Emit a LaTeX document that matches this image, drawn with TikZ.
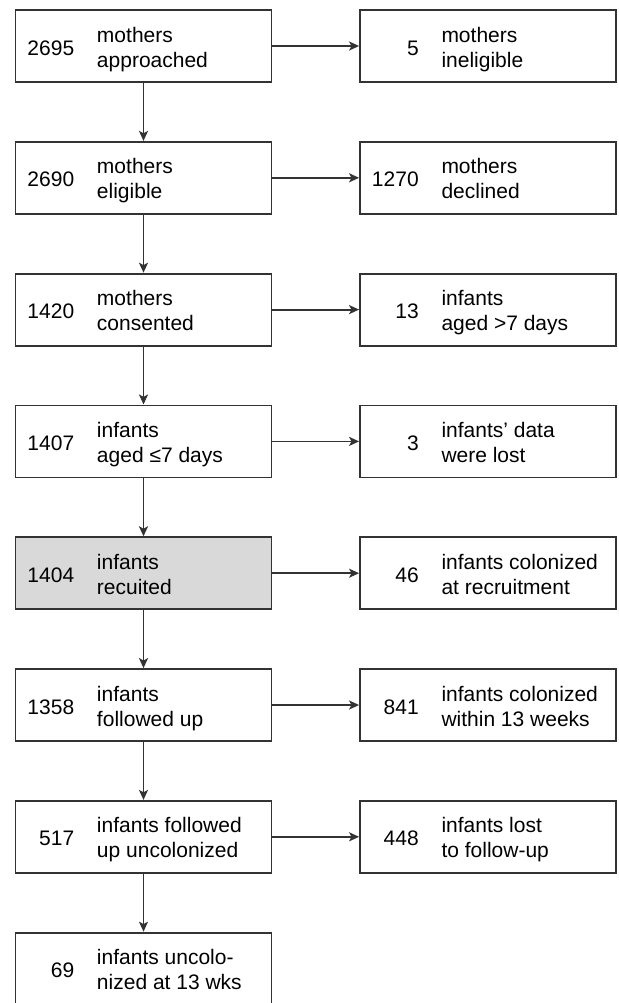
\documentclass[tikz,border=0pt]{standalone}
\usepackage{fontspec}
\setmainfont{Liberation Sans}
\usetikzlibrary{positioning,arrows.meta}
\definecolor{boxline}{gray}{0.2}
\definecolor{boxgrey}{gray}{0.85}
\newcommand{\flowfont}{\fontsize{10.5}{12.5}\selectfont}
\tikzstyle{stage} = [draw=boxline, line width=0.9pt, minimum width=128pt, minimum height=36pt, inner sep=0pt]
\tikzstyle{num} = [anchor=base east, inner sep=0pt, font=\flowfont]
\tikzstyle{desc} = [anchor=base west, inner sep=0pt, align=left, font=\flowfont]
\tikzstyle{flow} = [draw=boxline, line width=0.9pt, -{Stealth[length=5pt,width=4.5pt,inset=1.2pt]}]

\begin{document}
\begin{tikzpicture}
			\useasboundingbox (0,0) rectangle (309pt,-501.5pt);
			% main column
			\node[stage] (app) at (71.75pt,-23pt) {};
			\node[num] (app-n) at ([xshift=30pt,yshift=-4.5pt]app.west) {2695};
			\node[desc] (app-t) at ([xshift=41pt,yshift=-10.5pt]app.west) {mothers\\approached};
			\node[stage] (elig) at (71.75pt,-88.9pt) {};
			\node[num] (elig-n) at ([xshift=30pt,yshift=-4.5pt]elig.west) {2690};
			\node[desc] (elig-t) at ([xshift=41pt,yshift=-10.5pt]elig.west) {mothers\\eligible};
			\node[stage] (cons) at (71.75pt,-154.8pt) {};
			\node[num] (cons-n) at ([xshift=30pt,yshift=-4.5pt]cons.west) {1420};
			\node[desc] (cons-t) at ([xshift=41pt,yshift=-10.5pt]cons.west) {mothers\\consented};
			\node[stage] (aged) at (71.75pt,-220.7pt) {};
			\node[num] (aged-n) at ([xshift=30pt,yshift=-4.5pt]aged.west) {1407};
			\node[desc] (aged-t) at ([xshift=41pt,yshift=-10.5pt]aged.west) {infants\\aged ≤7 days};
			\node[stage, fill=boxgrey] (recr) at (71.75pt,-286.6pt) {};
			\node[num] (recr-n) at ([xshift=30pt,yshift=-4.5pt]recr.west) {1404};
			\node[desc] (recr-t) at ([xshift=41pt,yshift=-10.5pt]recr.west) {infants\\recuited};
			\node[stage] (foll) at (71.75pt,-352.5pt) {};
			\node[num] (foll-n) at ([xshift=30pt,yshift=-4.5pt]foll.west) {1358};
			\node[desc] (foll-t) at ([xshift=41pt,yshift=-10.5pt]foll.west) {infants\\followed up};
			\node[stage] (uncol) at (71.75pt,-418.4pt) {};
			\node[num] (uncol-n) at ([xshift=30pt,yshift=-4.5pt]uncol.west) {517};
			\node[desc] (uncol-t) at ([xshift=41pt,yshift=-10.5pt]uncol.west) {infants followed\\up uncolonized};
			\node[stage] (wks) at (71.75pt,-484.3pt) {};
			\node[num] (wks-n) at ([xshift=30pt,yshift=-4.5pt]wks.west) {69};
			\node[desc] (wks-t) at ([xshift=41pt,yshift=-10.5pt]wks.west) {infants uncolo-\\nized at 13 wks};
			% side column
			\node[stage] (inel) at (244pt,-23pt) {};
			\node[num] (inel-n) at ([xshift=30pt,yshift=-4.5pt]inel.west) {5};
			\node[desc] (inel-t) at ([xshift=41pt,yshift=-10.5pt]inel.west) {mothers\\ineligible};
			\node[stage] (decl) at (244pt,-88.9pt) {};
			\node[num] (decl-n) at ([xshift=30pt,yshift=-4.5pt]decl.west) {1270};
			\node[desc] (decl-t) at ([xshift=41pt,yshift=-10.5pt]decl.west) {mothers\\declined};
			\node[stage] (old) at (244pt,-154.8pt) {};
			\node[num] (old-n) at ([xshift=30pt,yshift=-4.5pt]old.west) {13};
			\node[desc] (old-t) at ([xshift=41pt,yshift=-10.5pt]old.west) {infants\\aged >7 days};
			\node[stage] (lost) at (244pt,-220.7pt) {};
			\node[num] (lost-n) at ([xshift=30pt,yshift=-4.5pt]lost.west) {3};
			\node[desc] (lost-t) at ([xshift=41pt,yshift=-10.5pt]lost.west) {infants’ data\\were lost};
			\node[stage] (colr) at (244pt,-286.6pt) {};
			\node[num] (colr-n) at ([xshift=30pt,yshift=-4.5pt]colr.west) {46};
			\node[desc] (colr-t) at ([xshift=41pt,yshift=-10.5pt]colr.west) {infants colonized\\at recruitment};
			\node[stage] (colw) at (244pt,-352.5pt) {};
			\node[num] (colw-n) at ([xshift=30pt,yshift=-4.5pt]colw.west) {841};
			\node[desc] (colw-t) at ([xshift=41pt,yshift=-10.5pt]colw.west) {infants colonized\\within 13 weeks};
			\node[stage] (ltfu) at (244pt,-418.4pt) {};
			\node[num] (ltfu-n) at ([xshift=30pt,yshift=-4.5pt]ltfu.west) {448};
			\node[desc] (ltfu-t) at ([xshift=41pt,yshift=-10.5pt]ltfu.west) {infants lost\\to follow-up};
			% arrows
			\draw[flow] (app) -- (elig);
			\draw[flow] (elig) -- (cons);
			\draw[flow] (cons) -- (aged);
			\draw[flow] (aged) -- (recr);
			\draw[flow] (recr) -- (foll);
			\draw[flow] (foll) -- (uncol);
			\draw[flow] (uncol) -- (wks);
			\draw[flow] (app) -- (inel);
			\draw[flow] (elig) -- (decl);
			\draw[flow] (cons) -- (old);
			\draw[flow] (aged) -- (lost);
			\draw[flow] (recr) -- (colr);
			\draw[flow] (foll) -- (colw);
			\draw[flow] (uncol) -- (ltfu);
		\end{tikzpicture}
\end{document}
